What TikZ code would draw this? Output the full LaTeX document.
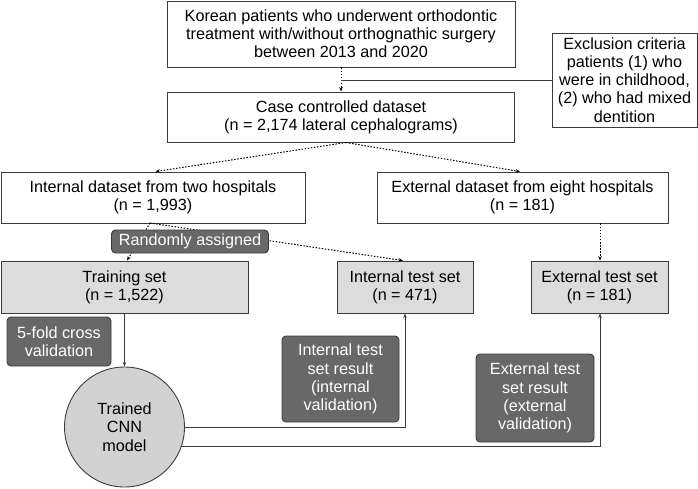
\documentclass[tikz,border=0pt]{standalone}
\usepackage{fontspec}
\setmainfont{Liberation Sans}
\usetikzlibrary{arrows.meta}
\definecolor{edge}{HTML}{3C3C3C}
\definecolor{lightfill}{HTML}{DCDCDC}
\definecolor{circfill}{HTML}{D2D2D2}
\definecolor{darkfill}{HTML}{686868}
\begin{document}
\begin{tikzpicture}[x=1pt,y=-1pt,
  box/.style={draw=edge,line width=0.9pt,inner sep=0pt,align=center,
    font=\fontsize{16.2}{18.2}\selectfont,text=black,fill=white},
  lbox/.style={box,fill=lightfill},
  dbox/.style={box,fill=darkfill,rounded corners=4pt,text=white},
  dotarrow/.style={draw=black,line width=1pt,dash pattern=on 1.5pt off 1.6pt,
    -{Stealth[length=4.5pt,width=3.5pt]}},
  conn/.style={draw=edge,line width=1pt,-{Stealth[length=4.5pt,width=3.5pt]}},
  plain/.style={draw=edge,line width=1pt}]
\useasboundingbox (0,0) rectangle (698,488);

\node[box,minimum width=348pt,minimum height=66pt] (top) at (341,34)
  {Korean patients who underwent orthodontic\\treatment with/without orthognathic surgery\\between 2013 and 2020};
\node[box,minimum width=145pt,minimum height=94pt] (excl) at (624.5,80)
  {Exclusion criteria\\patients (1) who\\were in childhood,\\(2) who had mixed\\dentition};
\node[box,minimum width=347pt,minimum height=50pt] (case) at (341,117)
  {Case controlled dataset\\(n = 2,174 lateral cephalograms)};
\node[box,minimum width=304pt,minimum height=51pt] (internal) at (153,197.5)
  {Internal dataset from two hospitals\\(n = 1,993)};
\node[box,minimum width=291pt,minimum height=51pt] (external) at (522.5,197.5)
  {External dataset from eight hospitals\\(n = 181)};
\node[lbox,minimum width=247pt,minimum height=52pt] (train) at (124.5,287)
  {Training set\\(n = 1,522)};
\node[lbox,minimum width=136pt,minimum height=52pt] (inttest) at (405,287)
  {Internal test set\\(n = 471)};
\node[lbox,minimum width=137pt,minimum height=52pt] (exttest) at (599.5,287)
  {External test set\\(n = 181)};
\node[dbox,minimum width=104pt,minimum height=49pt] (fold) at (59,341.5)
  {5-fold cross\\validation};
\node[box,circle,fill=circfill,minimum size=120pt] (cnn) at (124.5,427)
  {Trained\\CNN\\model};
\node[dbox,minimum width=117pt,minimum height=86pt] (intres) at (340.5,379)
  {Internal test\\set result\\(internal\\validation)};
\node[dbox,minimum width=118pt,minimum height=88pt] (extres) at (535,398)
  {External test\\set result\\(external\\validation)};

% connectors
\draw[dotarrow] (top.south) -- (case.north);
\coordinate (j) at (341,80);
\draw[plain] (j) -- (excl.west);
\coordinate (cs) at (346,142.5);
\draw[dotarrow] (cs) -- ([xshift=2.5pt]internal.north);
\draw[dotarrow] (cs) -- ([xshift=-2.5pt]external.north);
\coordinate (ib) at (150,223);
\draw[dotarrow] (ib) -- ([xshift=2.5pt]train.north);
\draw[dotarrow] (ib) -- ([xshift=-2pt]inttest.north);
\coordinate (ex) at (600,0);
\draw[dotarrow] (external.south -| ex) -- (exttest.north -| ex);

\node[dbox,minimum width=157pt,minimum height=23pt] (rand) at (190,241.5)
  {Randomly assigned};

\draw[conn] (train.south) -- (cnn.north);
\draw[conn] (cnn.east) -| (inttest.south);
\draw[conn] (cnn.-19.5) -| (exttest.south -| ex);
\end{tikzpicture}
\end{document}
